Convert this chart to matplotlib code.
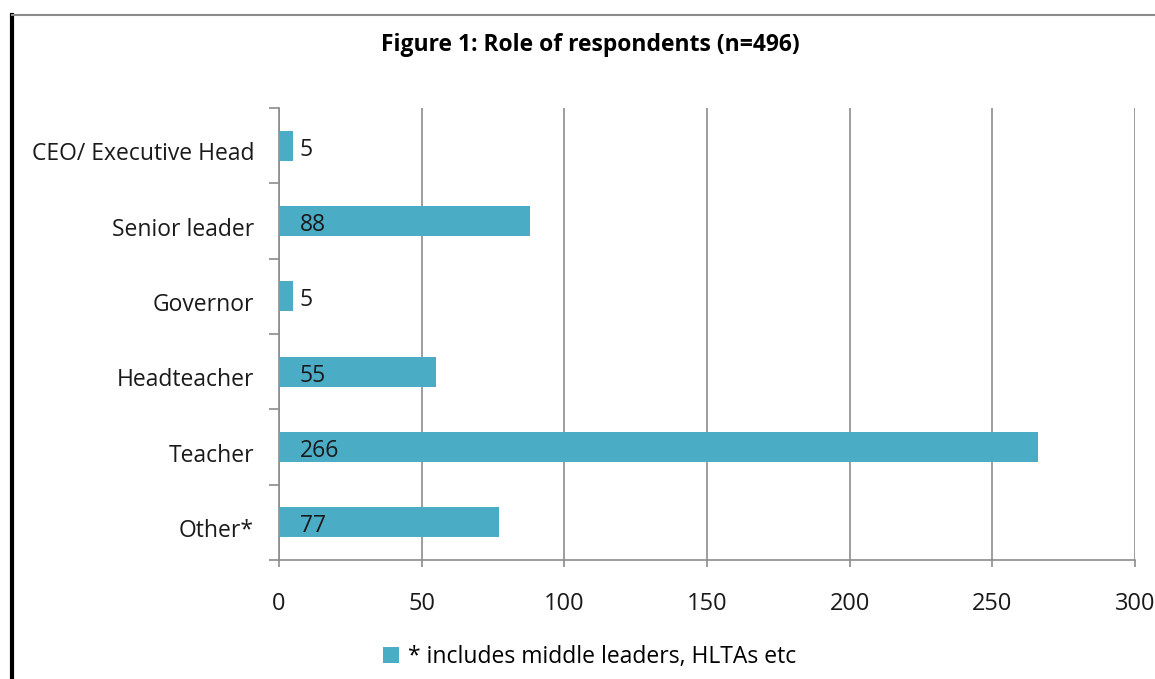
import matplotlib
matplotlib.use("Agg")
import matplotlib.pyplot as plt
import matplotlib.transforms as mtransforms
from matplotlib.lines import Line2D
import numpy as np

roles = ["CEO/ Executive Head", "Senior leader", "Governor",
         "Headteacher", "Teacher", "Other*"]
counts = [5, 88, 5, 55, 266, 77]
x_ticks = [0, 50, 100, 150, 200, 250, 300]
title = "Figure 1: Role of respondents (n=496)"
legend_label = "* includes middle leaders, HLTAs etc"

plt.rcParams["font.family"] = ["Open Sans", "DejaVu Sans"]

BAR = "#4bacc6"
GRID = "#8c8c8c"
TXT = "#1a1a1a"

fig = plt.figure(figsize=(11.55, 6.79), dpi=100)
ax = fig.add_axes([279 / 1155, 1 - 560 / 679, 856 / 1155, 452 / 679])

y = np.arange(len(roles))
bars = ax.barh(y, counts, height=0.4, color=BAR, edgecolor="none",
               label=legend_label, zorder=3)

# value labels sit near the base of each bar
for yi, v in zip(y, counts):
    ax.annotate(f"{v}", xy=(0, yi), xytext=(15, -3),
                textcoords="offset points", ha="left", va="center",
                fontsize=16.5, color=TXT, zorder=4)

ax.set_xlim(0, 300)
ax.set_ylim(len(roles) - 0.5, -0.5)
ax.set_xticks(x_ticks)
ax.set_yticks(y)
ax.set_yticklabels(roles)
ax.set_yticks(np.arange(-0.5, len(roles)), minor=True)
ax.tick_params(axis="y", which="major", length=0, pad=18,
               labelsize=16.5, labelcolor=TXT)
ax.tick_params(axis="y", which="minor", length=7, color=GRID, width=1.2)
ax.tick_params(axis="x", which="major", length=5, color=GRID, width=1.2,
               pad=18, labelsize=17, labelcolor=TXT)

# nudge the category labels down a little, as in the original
shift = mtransforms.ScaledTranslation(0, -4 / 72, fig.dpi_scale_trans)
for lab in ax.get_yticklabels():
    lab.set_transform(lab.get_transform() + shift)

ax.grid(axis="x", color=GRID, linewidth=1.2, zorder=0)
for side in ["top", "right"]:
    ax.spines[side].set_visible(False)
for side in ["left", "bottom"]:
    ax.spines[side].set_color(GRID)
    ax.spines[side].set_linewidth(1.2)

fig.text(590 / 1155, 1 - 45 / 679, title, ha="center", va="center",
         fontsize=16.5, fontweight="bold")

fig.legend(handles=[bars], labels=[legend_label], loc="center",
           bbox_to_anchor=(590 / 1155, 1 - 657 / 679), frameon=False,
           fontsize=16.5, handlelength=0.7, handleheight=0.7,
           handletextpad=0.4)

# page frame: black rule on the left, grey rule on top
fig.add_artist(Line2D([12 / 1155, 12 / 1155], [0, 1 - 15 / 679],
                      color="black", linewidth=3, transform=fig.transFigure))
fig.add_artist(Line2D([12 / 1155, 1], [1 - 15 / 679, 1 - 15 / 679],
                      color="#8c8c8c", linewidth=1.5,
                      transform=fig.transFigure))

fig.savefig("out.png", dpi=100)
